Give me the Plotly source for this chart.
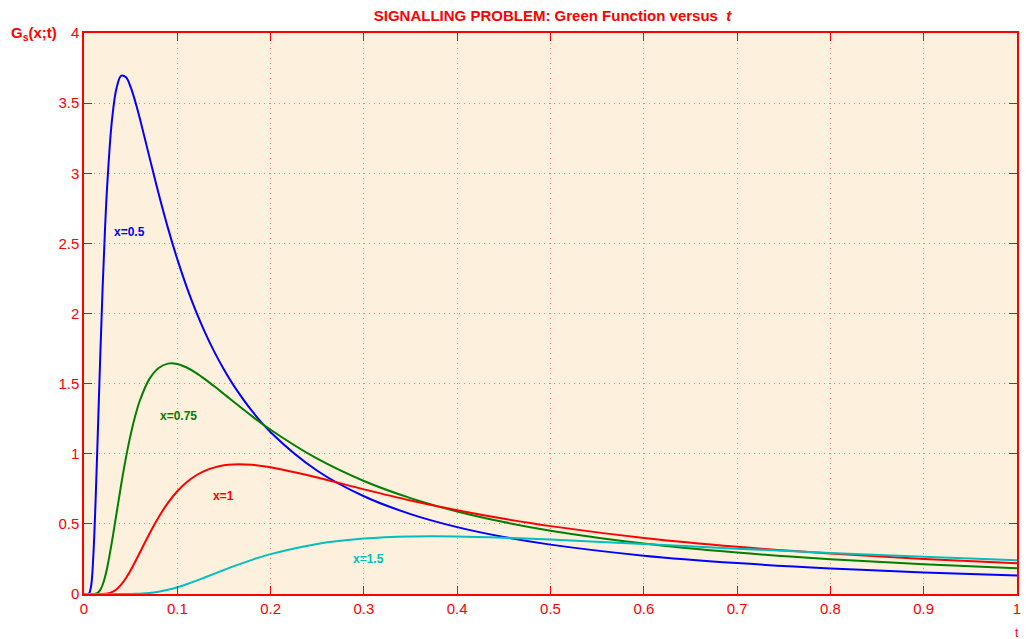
import plotly.graph_objects as go

t = [0, 0.005, 0.0075, 0.01, 0.0125, 0.015, 0.0175, 0.02, 0.0225, 0.025, 0.03, 0.035,
     0.04, 0.045, 0.05, 0.055, 0.06, 0.07, 0.08, 0.09, 0.1, 0.11, 0.12, 0.13, 0.14, 0.15, 0.16, 0.18, 0.2,
     0.25, 0.3, 0.35, 0.4, 0.45, 0.5, 0.6, 0.7, 0.8, 0.9, 1.0]

g_x05 = [0, 0.0015, 0.0522, 0.2723, 0.680, 1.1903, 1.7135, 2.191, 2.5985, 2.929, 3.380, 3.6115,
         3.6956, 3.6844, 3.6144, 3.5100, 3.3866, 3.1186, 2.8538, 2.6086, 2.3874, 2.1904, 2.0155, 1.8606, 1.7230, 1.6005,
         1.4912, 1.3052, 1.1537,
         0.8788, 0.6970, 0.5698, 0.4769, 0.4067, 0.3521, 0.2735, 0.2203, 0.1823, 0.1541, 0.1325]

g_x075 = [0, 0, 0, 0.0002, 0.00197, 0.00978, 0.0296, 0.0661, 0.1210, 0.1929, 0.3749, 0.5812,
          0.7863, 0.9738, 1.1364, 1.2720, 1.3816, 1.5320, 1.6117, 1.6425, 1.6397, 1.6150, 1.5767, 1.5302, 1.4792, 1.4261,
          1.3727, 1.2684, 1.1709,
          0.9644, 0.8057, 0.6837, 0.5884, 0.5128, 0.4517, 0.3601, 0.2955, 0.2480, 0.2119, 0.1838]

g_x1 = [0, 0, 0, 0, 0, 0, 0, 0.00037, 0.00125, 0.00324, 0.01305, 0.0340,
        0.0681, 0.1142, 0.1700, 0.2321, 0.2976, 0.4284, 0.5478, 0.6496, 0.7323, 0.7969, 0.8450, 0.8796, 0.9029, 0.9172,
        0.9239, 0.9211, 0.9036,
        0.8302, 0.7461, 0.6669, 0.5968, 0.5362, 0.4839, 0.4001, 0.3370, 0.2884, 0.2503, 0.2197]

g_x15 = [0, 0, 0, 0, 0, 0, 0, 0, 0, 0, 0, 0,
         0, 0.0002, 0.00049, 0.0012, 0.00244, 0.0074, 0.01653, 0.03025, 0.04822, 0.0697, 0.0937, 0.1193, 0.1453, 0.1713,
         0.1966, 0.2435, 0.2841,
         0.3568, 0.3949, 0.4096, 0.4099, 0.4016, 0.3885, 0.3565, 0.3235, 0.2927, 0.2653, 0.2411]

series = [
    ("x=0.5", g_x05, "#0000FF", 0.049, 2.58),
    ("x=0.75", g_x075, "#007F00", 0.101, 1.27),
    ("x=1", g_x1, "#FF0000", 0.149, 0.70),
    ("x=1.5", g_x15, "#00BFBF", 0.305, 0.25),
]

fig = go.Figure()
for name, ys, col, lx, ly in series:
    fig.add_trace(go.Scatter(x=t, y=ys, mode="lines", name=name,
                             line=dict(color=col, width=2, shape="spline", smoothing=1.0),
                             showlegend=False))
    fig.add_annotation(x=lx, y=ly, text="<b>" + name + "</b>", showarrow=False,
                       font=dict(color=col, size=12, family="Liberation Sans, Arial"),
                       xanchor="center", yanchor="middle")

red = "#FF0000"
axis_common = dict(
    showline=True, linecolor=red, linewidth=1.5, mirror="ticks",
    ticks="inside", ticklen=8, tickcolor=red, tickwidth=1,
    tickfont=dict(color=red, size=15, family="Liberation Sans, Arial"),
    showgrid=True, gridcolor="#FF8080", griddash="1px,4px", gridwidth=1,
    zeroline=False,
)

fig.update_xaxes(range=[0, 1], tickvals=[0, 0.1, 0.2, 0.3, 0.4, 0.5, 0.6, 0.7, 0.8, 0.9, 1],
                 ticktext=["0", "0.1", "0.2", "0.3", "0.4", "0.5", "0.6", "0.7", "0.8", "0.9", "1"],
                 **axis_common)
fig.update_yaxes(range=[0, 4], tickvals=[0, 0.5, 1, 1.5, 2, 2.5, 3, 3.5, 4],
                 ticktext=["0", "0.5", "1", "1.5", "2", "2.5", "3", "3.5", "4"],
                 **axis_common)

fig.add_annotation(xref="paper", yref="paper", x=-0.054, y=1.0,
                   text="<b>G<sub>s</sub>(x;t)</b>", showarrow=False,
                   font=dict(color=red, size=15, family="Liberation Sans, Arial"),
                   xanchor="center", yanchor="middle")
fig.add_annotation(xref="paper", yref="paper", x=1.0, y=-0.07,
                   text="t", showarrow=False,
                   font=dict(color=red, size=12, family="Liberation Sans, Arial"),
                   xanchor="center", yanchor="middle")

fig.update_layout(
    width=1031, height=639,
    margin=dict(l=84, r=10, t=33, b=45),
    paper_bgcolor="white", plot_bgcolor="#FDF0DC",
    title=dict(text="<b>SIGNALLING PROBLEM: Green Function versus  <i>t</i></b>",
               x=0.5359, xanchor="center", y=1 - 16/639, yanchor="middle",
               font=dict(color=red, size=15, family="Liberation Sans, Arial")),
)

fig.write_html("out.html")
